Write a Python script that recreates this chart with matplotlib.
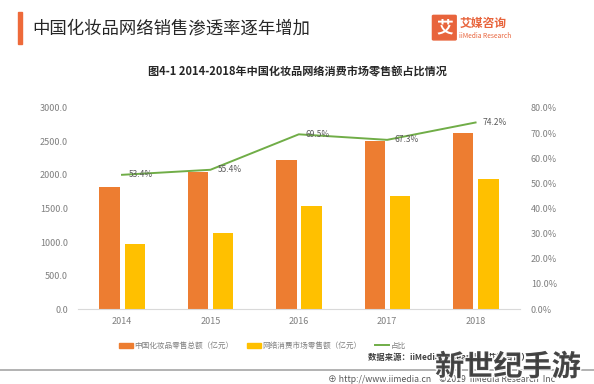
import matplotlib.pyplot as plt
import matplotlib.patches as mpatches
import matplotlib.patheffects as pe
from matplotlib.lines import Line2D
import numpy as np

plt.rcParams['font.family'] = ['Noto Sans CJK SC', 'DejaVu Sans']

# data
years = ['2014', '2015', '2016', '2017', '2018']
total_sales = [1825, 2049, 2222, 2514, 2619]     # 中国化妆品零售总额（亿元）
online_sales = [975, 1135, 1544, 1692, 1943]     # 网络消费市场零售额（亿元）
share = [53.4, 55.4, 69.5, 67.3, 74.2]           # 占比 (%)
left_ticks = [0, 500, 1000, 1500, 2000, 2500, 3000]
right_ticks = [0, 10, 20, 30, 40, 50, 60, 70, 80]

orange = '#ED7D31'
yellow = '#FFC000'
green = '#70AD47'
grey = '#7f7f7f'

fig = plt.figure(figsize=(5.94, 3.84), dpi=100)
ax = fig.add_axes([0.131, 0.195, 0.744, 0.524])
ax2 = ax.twinx()

x = np.arange(len(years))
w = 0.23
ax.bar(x - 0.14, total_sales, w, color=orange, zorder=2)
ax.bar(x + 0.145, online_sales, w, color=yellow, zorder=2)
ax.set_xlim(-0.5, 4.5)
ax.set_ylim(0, 3000)
ax.set_yticks(left_ticks)
ax.set_yticklabels(['%.1f' % v for v in left_ticks])
ax.set_xticks(x)
ax.set_xticklabels(years)

ax2.plot(x, share, color=green, lw=1.4, zorder=3)
ax2.set_ylim(0, 80)
ax2.set_yticks(right_ticks)
ax2.set_yticklabels(['%.1f%%' % v for v in right_ticks])
for xi, s in zip(x, share):
    ax2.annotate('%.1f%%' % s, (xi, s), xytext=(5, 0), textcoords='offset points',
                 ha='left', va='center', fontsize=6, color='#595959')

for a in (ax, ax2):
    for sp in a.spines.values():
        sp.set_visible(False)
    a.tick_params(length=0, labelsize=6.5, colors=grey)
ax.spines['bottom'].set_visible(True)
ax.spines['bottom'].set_color('#d9d9d9')
ax.tick_params(axis='x', pad=6)
ax.tick_params(axis='y', pad=7)
ax2.tick_params(axis='y', pad=8)

# header
fig.patches.append(mpatches.Rectangle((0.030, 0.885), 0.007, 0.085, transform=fig.transFigure,
                                      color='#EE6A3A', zorder=5))
fig.text(0.054, 0.927, '中国化妆品网络销售渗透率逐年增加', fontsize=12.5, color='#262626',
         va='center', ha='left')
fig.patches.append(mpatches.FancyBboxPatch((0.730, 0.898), 0.036, 0.060,
                                           boxstyle='round,pad=0.002', transform=fig.transFigure,
                                           color='#E8643C'))
fig.text(0.748, 0.928, '艾', fontsize=12, color='white', fontweight='bold', ha='center', va='center')
fig.text(0.773, 0.940, '艾媒咨询', fontsize=8.5, color='#E8643C', fontweight='bold',
         ha='left', va='center')
fig.text(0.773, 0.905, 'iiMedia Research', fontsize=4.8, color='#E8643C', ha='left', va='center')

fig.text(0.5, 0.812, '图4-1 2014-2018年中国化妆品网络消费市场零售额占比情况', fontsize=8,
         fontweight='bold', color='#262626', ha='center', va='center')

# legend
handles = [mpatches.Patch(color=orange), mpatches.Patch(color=yellow),
           Line2D([], [], color=green, lw=1.4)]
labels = ['中国化妆品零售总额（亿元）', '网络消费市场零售额（亿元）', '占比']
fig.legend(handles, labels, loc='center left', bbox_to_anchor=(0.2, 0.099), ncol=3, frameon=False,
           fontsize=5.5, labelcolor=grey, handlelength=1.8, handleheight=0.55,
           handletextpad=0.2, columnspacing=1.8, borderaxespad=0, borderpad=0)

fig.text(0.62, 0.068, '数据来源：iiMedia Research（艾媒咨询）', fontsize=6, fontweight='bold',
         color='#404040', ha='left', va='center')
fig.add_artist(Line2D([0.0, 1.0], [0.037, 0.037], color='#a6a6a6', lw=1.2, transform=fig.transFigure))
fig.text(0.552, 0.012, '\u2295 http://www.iimedia.cn    ©2019  iiMedia Research  Inc', fontsize=6.3,
         color='#595959', ha='left', va='center')

# watermark overlaid on the source
fig.text(0.855, 0.045, '新世纪手游', fontsize=21, fontweight='bold', color='#3a3a3a',
         ha='center', va='center', alpha=0.92,
         path_effects=[pe.withStroke(linewidth=2, foreground='white')])

fig.savefig('out.png', dpi=100)
